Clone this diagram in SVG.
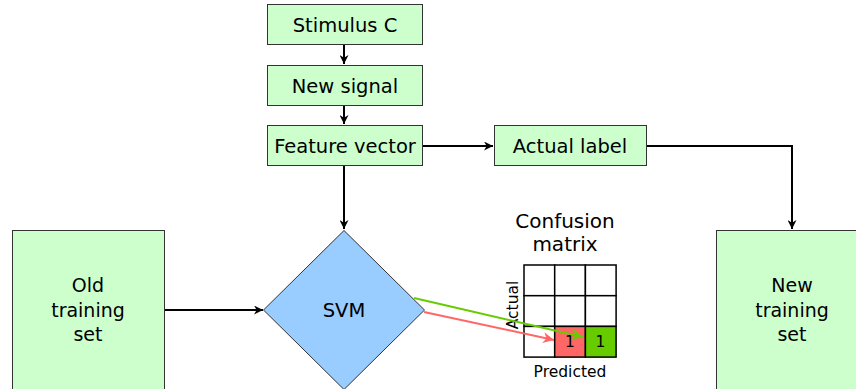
<svg xmlns="http://www.w3.org/2000/svg" width="856" height="389" viewBox="0 0 856 389">
  <style>
    .box { fill: #ccffcc; stroke: #333333; stroke-width: 1; }
    .label { font-family: "DejaVu Sans", sans-serif; font-size: 19.5px; fill: #000; text-anchor: middle; }
    .big { font-family: "DejaVu Sans", sans-serif; font-size: 19px; fill: #000; text-anchor: middle; }
    .small { font-family: "DejaVu Sans", sans-serif; font-size: 15.5px; fill: #000; text-anchor: middle; }
    .conn { fill: none; stroke: #000; stroke-width: 2; }
    .cell { fill: #ffffff; stroke: #000; stroke-width: 1.5; }
  </style>
  <defs>
    <marker id="arrowBlack" viewBox="0 0 10 10" refX="10" refY="5" markerWidth="11" markerHeight="9" markerUnits="userSpaceOnUse" orient="auto">
      <path d="M0,0 L10,5 L0,10 L3,5 z" fill="#000"/>
    </marker>
    <marker id="arrowGreen" viewBox="0 0 10 10" refX="10" refY="5" markerWidth="13" markerHeight="11" markerUnits="userSpaceOnUse" orient="auto">
      <path d="M0,0 L10,5 L0,10 L3,5 z" fill="#66cc00"/>
    </marker>
    <marker id="arrowRed" viewBox="0 0 10 10" refX="10" refY="5" markerWidth="13" markerHeight="11" markerUnits="userSpaceOnUse" orient="auto">
      <path d="M0,0 L10,5 L0,10 L3,5 z" fill="#ff6666"/>
    </marker>
  </defs>

  <!-- connectors -->
  <g id="connectors">
    <path class="conn" d="M344,45 L344,64" marker-end="url(#arrowBlack)"/>
    <path class="conn" d="M344,105 L344,124" marker-end="url(#arrowBlack)"/>
    <path class="conn" d="M422,146 L493,146" marker-end="url(#arrowBlack)"/>
    <path class="conn" d="M646,146 L792,146 L792,229" marker-end="url(#arrowBlack)"/>
    <path class="conn" d="M344,165 L344,229" marker-end="url(#arrowBlack)"/>
    <path class="conn" d="M164,310 L263,310" marker-end="url(#arrowBlack)"/>
  </g>

  <!-- input chain -->
  <g id="stimulus">
    <rect class="box" x="267.5" y="4.5" width="155" height="40"/>
    <text class="label" x="345" y="32">Stimulus C</text>
  </g>
  <g id="new-signal">
    <rect class="box" x="267.5" y="65.5" width="155" height="40"/>
    <text class="label" x="345" y="93">New signal</text>
  </g>
  <g id="feature-vector">
    <rect class="box" x="267.5" y="125.5" width="155" height="40"/>
    <text class="label" x="345" y="153">Feature vector</text>
  </g>
  <g id="actual-label">
    <rect class="box" x="494.5" y="125.5" width="152" height="40"/>
    <text class="label" x="570" y="153">Actual label</text>
  </g>

  <!-- training sets -->
  <g id="old-training-set">
    <rect class="box" x="12.5" y="230.5" width="152" height="170"/>
    <text class="big" x="88" y="292">Old</text>
    <text class="big" x="88" y="317">training</text>
    <text class="big" x="88" y="341">set</text>
  </g>
  <g id="new-training-set">
    <rect class="box" x="716.5" y="230.5" width="152" height="170"/>
    <text class="big" x="792" y="292">New</text>
    <text class="big" x="792" y="317">training</text>
    <text class="big" x="792" y="341">set</text>
  </g>

  <!-- classifier -->
  <g id="svm">
    <polygon points="344,230.5 424.5,310 344,389.5 263.5,310" fill="#99ccff" stroke="#333333" stroke-width="1"/>
    <text class="label" x="344" y="317">SVM</text>
  </g>

  <!-- confusion matrix -->
  <g id="confusion-matrix">
    <text class="label" x="565" y="228" style="font-size:20px">Confusion</text>
    <text class="label" x="565" y="251" style="font-size:20px">matrix</text>
    <rect class="cell" x="524" y="265" width="30.7" height="30.7"/>
    <rect class="cell" x="554.7" y="265" width="30.7" height="30.7"/>
    <rect class="cell" x="585.4" y="265" width="30.7" height="30.7"/>
    <rect class="cell" x="524" y="295.7" width="30.7" height="30.7"/>
    <rect class="cell" x="554.7" y="295.7" width="30.7" height="30.7"/>
    <rect class="cell" x="585.4" y="295.7" width="30.7" height="30.7"/>
    <rect class="cell" x="524" y="326.4" width="30.7" height="30.7"/>
    <rect class="cell" x="554.7" y="326.4" width="30.7" height="30.7" style="fill:#ff6666"/>
    <rect class="cell" x="585.4" y="326.4" width="30.7" height="30.7" style="fill:#66cc00"/>
    <text class="small" x="570" y="347">1</text>
    <text class="small" x="600.5" y="347">1</text>
    <text class="small" transform="translate(518,305) rotate(-90)">Actual</text>
    <text class="small" x="570" y="377">Predicted</text>
  </g>

  <!-- prediction arrows -->
  <g id="prediction-connectors">
    <path d="M414,298 L583,337" fill="none" stroke="#66cc00" stroke-width="2" marker-end="url(#arrowGreen)"/>
    <path d="M424,312 L554,340" fill="none" stroke="#ff6666" stroke-width="2" marker-end="url(#arrowRed)"/>
  </g>
</svg>
